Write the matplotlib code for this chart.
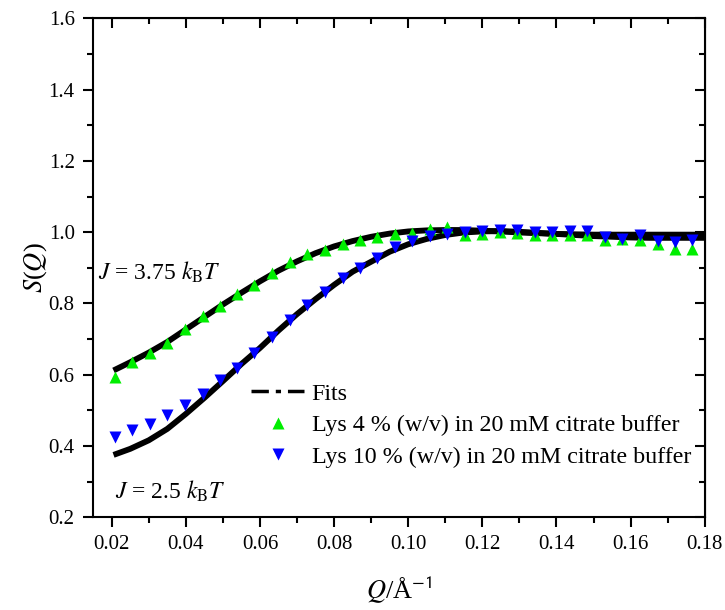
import numpy as np
import matplotlib
matplotlib.use("Agg")
from matplotlib import pyplot as plt
from matplotlib.lines import Line2D
from matplotlib.ticker import MultipleLocator

plt.rcParams['font.family'] = ['Liberation Serif', 'DejaVu Serif']
plt.rcParams['mathtext.fontset'] = 'stix'

# measured points, same Q grid for both samples
q_data = [0.0208, 0.0255, 0.0303, 0.0350, 0.0398, 0.0445, 0.0492, 0.0538, 0.0585,
          0.0632, 0.0680, 0.0728, 0.0775, 0.0823, 0.0869, 0.0917, 0.0964, 0.1011,
          0.1059, 0.1106, 0.1153, 0.1200, 0.1247, 0.1294, 0.1342, 0.1389, 0.1436,
          0.1483, 0.1530, 0.1578, 0.1625, 0.1673, 0.1720, 0.1767]
s_lys4 = [0.594, 0.636, 0.661, 0.690, 0.729, 0.764, 0.793, 0.827, 0.853,
          0.884, 0.916, 0.938, 0.951, 0.968, 0.977, 0.986, 0.996, 0.999,
          1.010, 1.014, 0.993, 0.996, 1.000, 0.999, 0.991, 0.991, 0.991,
          0.993, 0.979, 0.982, 0.977, 0.968, 0.954, 0.954]
s_lys10 = [0.425, 0.446, 0.463, 0.486, 0.514, 0.545, 0.584, 0.620, 0.661,
           0.706, 0.753, 0.795, 0.832, 0.872, 0.900, 0.928, 0.957, 0.975,
           0.988, 0.996, 1.000, 1.003, 1.007, 1.005, 1.000, 1.000, 1.003,
           1.003, 0.986, 0.982, 0.991, 0.975, 0.972, 0.977]

# fitted curves
q_fit = [0.0205, 0.025, 0.030, 0.035, 0.040, 0.045, 0.050, 0.055, 0.060, 0.065,
         0.070, 0.075, 0.080, 0.085, 0.090, 0.095, 0.100, 0.105, 0.110, 0.115,
         0.120, 0.125, 0.130, 0.135, 0.140, 0.145, 0.150, 0.155, 0.160, 0.165,
         0.170, 0.175, 0.180]
fit_375 = [0.612, 0.635, 0.662, 0.692, 0.727, 0.762, 0.797, 0.830, 0.862, 0.892,
           0.918, 0.941, 0.960, 0.975, 0.987, 0.996, 1.002, 1.005, 1.006, 1.006,
           1.004, 1.002, 0.999, 0.997, 0.995, 0.994, 0.993, 0.993, 0.993, 0.993,
           0.993, 0.993, 0.993]
fit_25 = [0.375, 0.392, 0.416, 0.448, 0.490, 0.535, 0.582, 0.630, 0.675, 0.724,
          0.770, 0.812, 0.852, 0.889, 0.917, 0.945, 0.966, 0.981, 0.992, 0.999,
          1.002, 1.003, 1.001, 0.998, 0.995, 0.992, 0.989, 0.987, 0.985, 0.984,
          0.984, 0.984, 0.984]

fig = plt.figure(figsize=(7.25, 6.1), dpi=100)
ax = fig.add_axes([0.128, 0.152, 0.844, 0.818])

ax.plot(q_fit, fit_375, color='black', lw=4.2, solid_capstyle='butt', zorder=2)
ax.plot(q_fit, fit_25, color='black', lw=4.2, solid_capstyle='butt', zorder=2)
ax.plot(q_data, s_lys4, '^', color='#00ee00', ms=9, mec='none', zorder=3)
ax.plot(q_data, s_lys10, 'v', color='#0000ff', ms=9, mec='none', zorder=4)

ax.set_xlim(0.0149, 0.18)
ax.set_ylim(0.2, 1.6)
ax.xaxis.set_minor_locator(MultipleLocator(0.01))
ax.yaxis.set_major_locator(MultipleLocator(0.2))
ax.yaxis.set_minor_locator(MultipleLocator(0.1))
ax.set_xticks(np.arange(0.02, 0.181, 0.02))
ax.set_xticklabels(['0.02', '0.04', '0.06', '0.08', '0.10', '0.12', '0.14', '0.16', '0.18'])
ax.tick_params(which='both', direction='out', width=1.5, labelsize=15)
ax.tick_params(which='major', length=7, pad=6)
ax.tick_params(which='minor', length=4)
for s in ax.spines.values():
    s.set_linewidth(1.5)

# inward ticks on top and right
top = ax.secondary_xaxis('top')
top.set_xticks(np.arange(0.02, 0.181, 0.02))
top.xaxis.set_minor_locator(MultipleLocator(0.01))
top.tick_params(which='both', direction='in', width=1.5, labeltop=False)
top.tick_params(which='major', length=7)
top.tick_params(which='minor', length=4)
right = ax.secondary_yaxis('right')
right.yaxis.set_major_locator(MultipleLocator(0.2))
right.yaxis.set_minor_locator(MultipleLocator(0.1))
right.tick_params(which='both', direction='in', width=1.5, labelright=False)
right.tick_params(which='major', length=7)
right.tick_params(which='minor', length=4)

ax.set_xlabel(r'$Q$/Å$^{\mathsf{-1}}$', fontsize=19, labelpad=14)
ax.set_ylabel(r'$S$($Q$)', fontsize=19, labelpad=0)

ax.text(0.0163, 0.866, r'$J$ = 3.75 $k_{\mathrm{B}}T$', fontsize=17)
ax.text(0.0208, 0.253, r'$J$ = 2.5 $k_{\mathrm{B}}T$', fontsize=17)

handles = [
    Line2D([], [], color='black', lw=2.5, linestyle=(0, (5, 2, 1.5, 2))),
    Line2D([], [], marker='^', color='#00ee00', ls='none', ms=9, mec='none'),
    Line2D([], [], marker='v', color='#0000ff', ls='none', ms=9, mec='none'),
]
labels = ['Fits', 'Lys 4 % (w/v) in 20 mM citrate buffer',
          'Lys 10 % (w/v) in 20 mM citrate buffer']
ax.legend(handles, labels, loc='lower right', bbox_to_anchor=(1.005, 0.066),
          frameon=False, fontsize=17.3, handlelength=2.2, handletextpad=0.3,
          labelspacing=0.4, borderpad=0.2)

fig.savefig('out.png', dpi=100)
